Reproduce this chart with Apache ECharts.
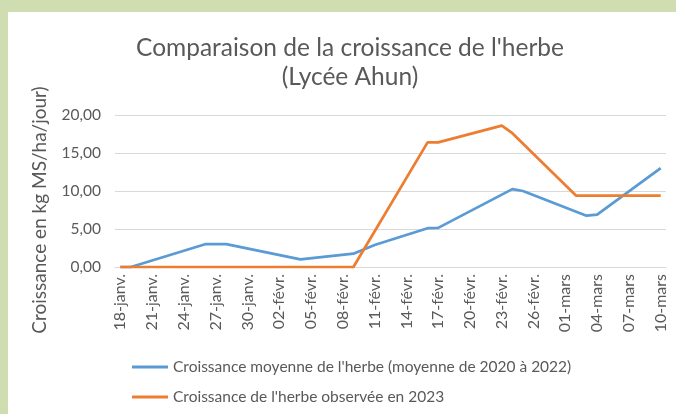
<!DOCTYPE html>
<html>
<head>
<meta charset="utf-8">
<script src="https://cdn.jsdelivr.net/npm/echarts@6/dist/echarts.min.js"></script>
<style>html,body{margin:0;padding:0;background:#fff}#c{width:676px;height:414px}</style>
</head>
<body>
<div id="c"></div>
<script>
const categories = [
  '18-janv.','19-janv.','20-janv.','21-janv.','22-janv.','23-janv.','24-janv.','25-janv.','26-janv.','27-janv.','28-janv.','29-janv.','30-janv.','31-janv.',
  '01-févr.','02-févr.','03-févr.','04-févr.','05-févr.','06-févr.','07-févr.','08-févr.','09-févr.','10-févr.','11-févr.','12-févr.','13-févr.','14-févr.',
  '15-févr.','16-févr.','17-févr.','18-févr.','19-févr.','20-févr.','21-févr.','22-févr.','23-févr.','24-févr.','25-févr.','26-févr.','27-févr.','28-févr.',
  '01-mars','02-mars','03-mars','04-mars','05-mars','06-mars','07-mars','08-mars','09-mars','10-mars'
];
const yTicks = [0, 5, 10, 15, 20];

const blueName = "Croissance moyenne de l'herbe (moyenne de 2020 à 2022)";
const blueDates = ['18-janv.','19-janv.','26-janv.','28-janv.','04-févr.','09-févr.','11-févr.','16-févr.','17-févr.','24-févr.','25-févr.','03-mars','04-mars','10-mars'];
const blueValues = [0, 0, 3.0, 3.0, 1.0, 1.75, 2.9, 5.1, 5.15, 10.25, 10.0, 6.75, 6.9, 13.0];

const orangeName = "Croissance de l'herbe observée en 2023";
const orangeDates = ['18-janv.','09-févr.','16-févr.','17-févr.','23-févr.','24-févr.','02-mars','10-mars'];
const orangeValues = [0, 0, 16.4, 16.4, 18.6, 17.6, 9.4, 9.4];

function toSeries(dates, values) {
  return categories.map(c => { const i = dates.indexOf(c); return i >= 0 ? values[i] : null; });
}

const FONT = 'Lato';
const TXT = '#595959';
const chart = echarts.init(document.getElementById('c'), null, {renderer: 'canvas'});
chart.setOption({
  backgroundColor: '#cfddb1',
  animation: false,
  graphic: [{type: 'rect', z: -10, silent: true, shape: {x: 8, y: 12, width: 668, height: 402}, style: {fill: '#ffffff'}}],
  title: {
    text: "Comparaison de la croissance de l'herbe\n(Lycée Ahun)",
    left: 345, top: 29, textAlign: 'center',
    textStyle: {fontFamily: FONT, fontSize: 24.5, fontWeight: 'normal', color: TXT, lineHeight: 29}
  },
  legend: {
    orient: 'vertical', left: 127, top: 354, itemWidth: 36, itemHeight: 3, itemGap: 14,
    icon: 'rect',
    textStyle: {fontFamily: FONT, fontSize: 15.5, color: TXT},
    data: [blueName, orangeName]
  },
  grid: {left: 115, right: 10, top: 115, bottom: 147, containLabel: false},
  xAxis: {
    type: 'category', data: categories, boundaryGap: true,
    axisLine: {lineStyle: {color: '#d9d9d9', width: 1}},
    axisTick: {interval: 2, length: 5, lineStyle: {color: '#d9d9d9'}},
    axisLabel: {interval: 2, rotate: 90, fontFamily: FONT, fontSize: 16, color: TXT, margin: 7}
  },
  yAxis: {
    type: 'value', min: yTicks[0], max: yTicks[yTicks.length - 1], interval: 5,
    name: 'Croissance en kg MS/ha/jour)', nameLocation: 'middle', nameGap: 66, nameRotate: 90,
    nameTextStyle: {fontFamily: FONT, fontSize: 19, color: TXT, padding: [0, 38, 0, 0]},
    axisLine: {show: false}, axisTick: {show: false},
    splitLine: {lineStyle: {color: '#d9d9d9', width: 1}},
    axisLabel: {fontFamily: FONT, fontSize: 15.5, color: TXT, margin: 14,
      formatter: v => v.toFixed(2).replace('.', ',')}
  },
  series: [
    {name: blueName, type: 'line', data: toSeries(blueDates, blueValues), connectNulls: true,
     symbol: 'none', lineStyle: {color: '#5b9bd5', width: 2.75}, itemStyle: {color: '#5b9bd5'}},
    {name: orangeName, type: 'line', data: toSeries(orangeDates, orangeValues), connectNulls: true,
     symbol: 'none', lineStyle: {color: '#ed7d31', width: 2.75}, itemStyle: {color: '#ed7d31'}}
  ]
});
</script>
</body>
</html>
